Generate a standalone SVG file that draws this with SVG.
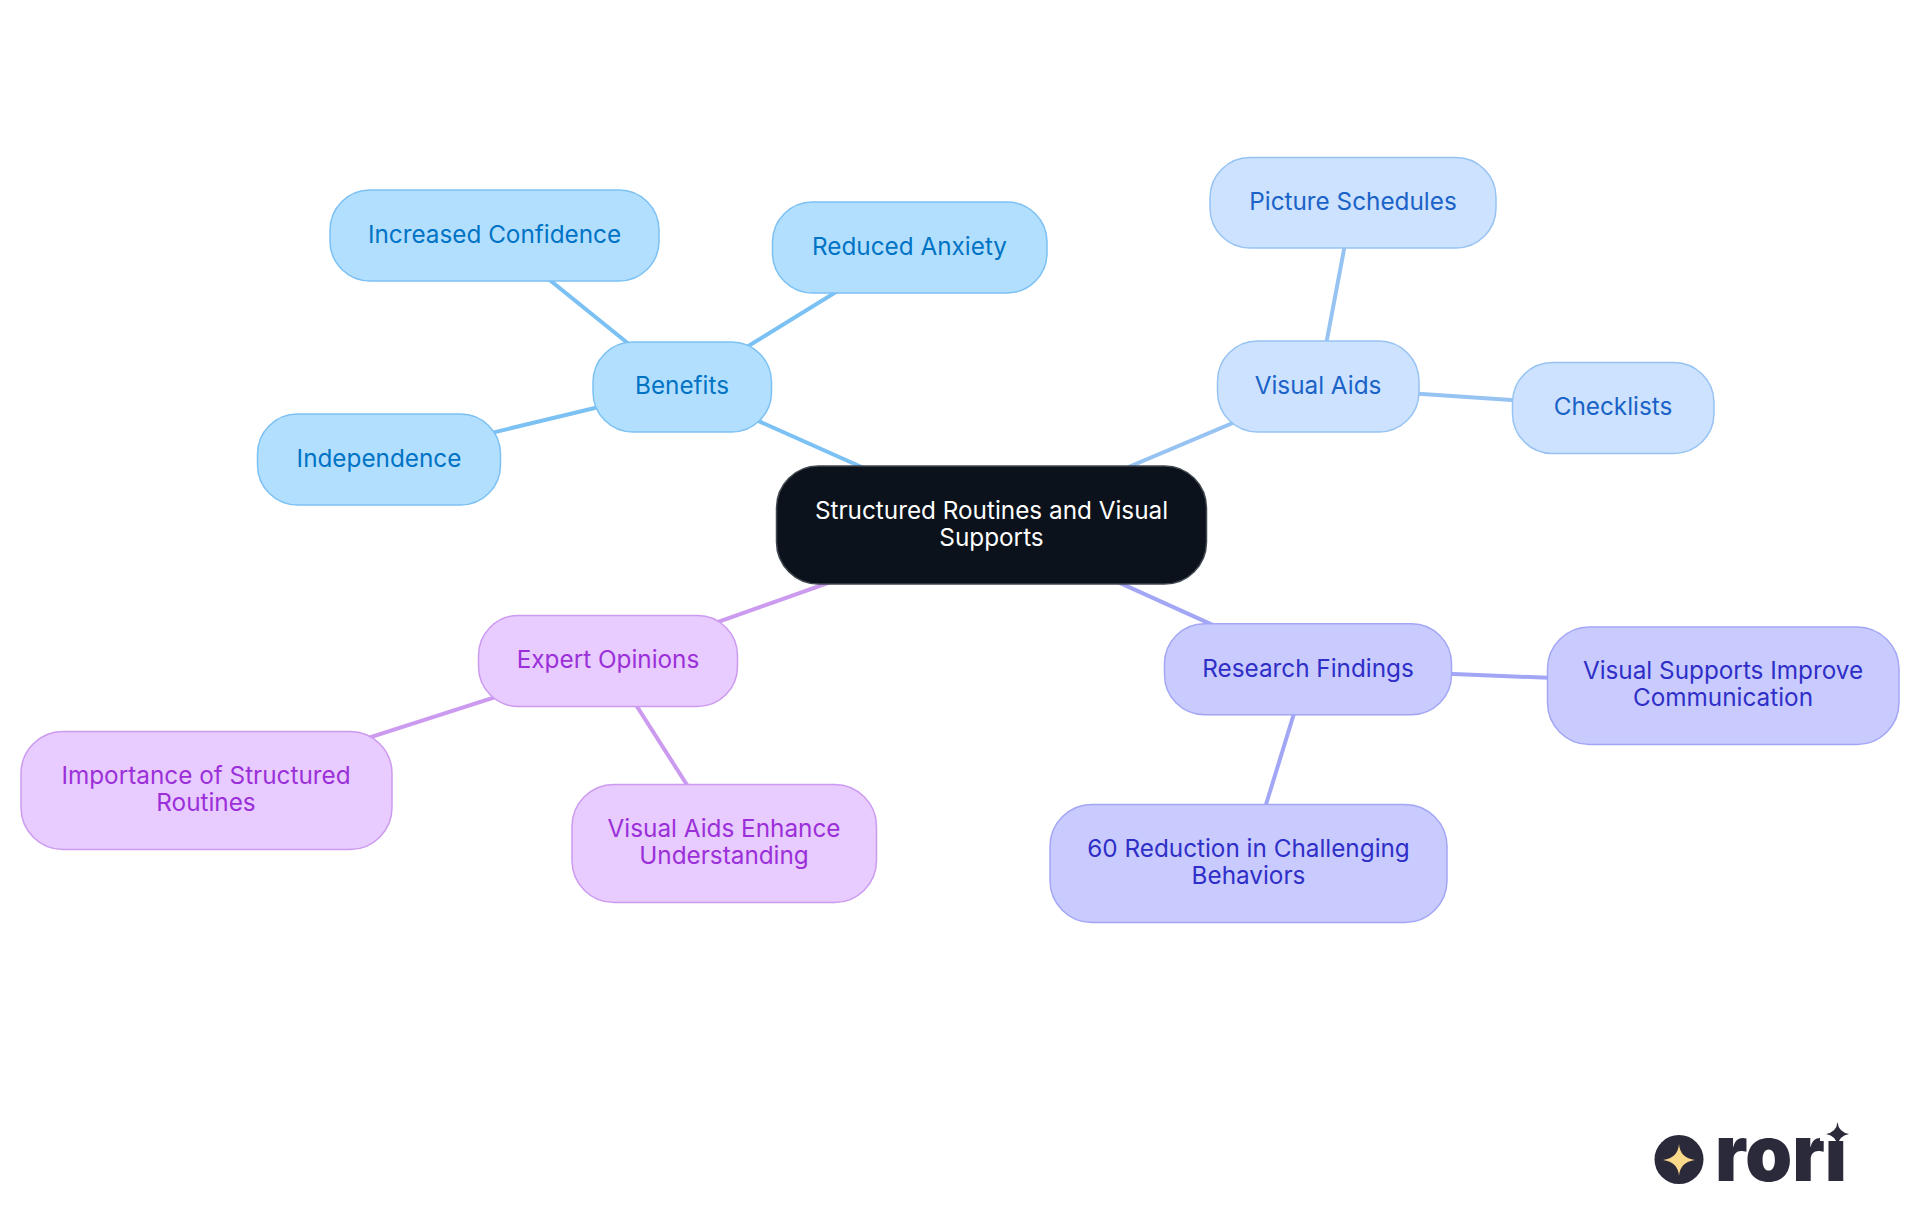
<svg xmlns="http://www.w3.org/2000/svg" width="1920" height="1215" viewBox="0 0 1920 1215">
<style>
text{font-family:"Inter","Noto Sans","Liberation Sans",sans-serif;font-size:24.3px;font-weight:380;text-anchor:middle}
.e{fill:none;stroke-width:4;stroke-linecap:round}
.b rect{fill:#B3DFFF;stroke:#7CC1F3}.b text{fill:#0073C4}
.v rect{fill:#CCE2FE;stroke:#97C3F3}.v text{fill:#1A62C8}
.r rect{fill:#C9CBFE;stroke:#A2A6F5}.r text{fill:#2F2FC8}
.x rect{fill:#E8CBFF;stroke:#CC9BF0}.x text{fill:#9B30D9}
rect{stroke-width:1.5}
</style>
<rect width="1920" height="1215" fill="#fff" style="stroke:none"/>
<g id="connectors" class="e">
<path stroke="#7CC1F3" d="M991.500 525L682 387M682 387L494 235M682 387L909 247M682 387L379 460"/>
<path stroke="#97C3F3" d="M991.500 525L1318 387M1318 387L1353 202M1318 387L1613 407"/>
<path stroke="#A2A6F5" d="M991.500 525L1308 668M1308 668L1723 685M1308 668L1248 863"/>
<path stroke="#CC9BF0" d="M991.500 525L608 661M608 661L206 790M608 661L724 843"/>
</g>
<g id="root"><rect x="776.500" y="466" width="430" height="118" rx="42" fill="#0B121B" stroke="#41474F"/><text x="991.500" y="519" fill="#fff">Structured Routines and Visual</text><text x="991.500" y="546" fill="#fff">Supports</text></g>
<g id="benefits" class="b"><rect x="593" y="342" width="178.500" height="90" rx="40"/><text x="682" y="394">Benefits</text></g>
<g id="increased-confidence" class="b"><rect x="330" y="190" width="329" height="91" rx="40"/><text x="494.500" y="243">Increased Confidence</text></g>
<g id="reduced-anxiety" class="b"><rect x="772.500" y="202" width="274.500" height="91" rx="40"/><text x="909.500" y="255">Reduced Anxiety</text></g>
<g id="independence" class="b"><rect x="257.500" y="414" width="243" height="91" rx="40"/><text x="379" y="467">Independence</text></g>
<g id="visual-aids" class="v"><rect x="1217.500" y="341" width="201.500" height="91" rx="40"/><text x="1318" y="394">Visual Aids</text></g>
<g id="picture-schedules" class="v"><rect x="1210" y="157.500" width="286" height="90.500" rx="40"/><text x="1353" y="210">Picture Schedules</text></g>
<g id="checklists" class="v"><rect x="1512.500" y="362.500" width="201.500" height="91" rx="40"/><text x="1613" y="415">Checklists</text></g>
<g id="research-findings" class="r"><rect x="1164.500" y="623.700" width="287" height="91" rx="40"/><text x="1308" y="677">Research Findings</text></g>
<g id="visual-supports" class="r"><rect x="1547.500" y="627" width="351.500" height="117.500" rx="42"/><text x="1723" y="679">Visual Supports Improve</text><text x="1723" y="706">Communication</text></g>
<g id="reduction" class="r"><rect x="1050" y="804.500" width="397" height="118" rx="42"/><text x="1248.500" y="857">60 Reduction in Challenging</text><text x="1248.500" y="884">Behaviors</text></g>
<g id="expert-opinions" class="x"><rect x="478.500" y="615.500" width="259" height="91" rx="40"/><text x="608" y="668">Expert Opinions</text></g>
<g id="importance" class="x"><rect x="21" y="731.500" width="371" height="118" rx="42"/><text x="206" y="784">Importance of Structured</text><text x="206" y="811">Routines</text></g>
<g id="enhance" class="x"><rect x="572" y="784.500" width="304.500" height="118" rx="42"/><text x="724" y="837">Visual Aids Enhance</text><text x="724" y="864">Understanding</text></g>
<g id="logo">
<circle cx="1679" cy="1159.500" r="24.500" fill="#2B2A3A"/>
<path fill="#FBD98A" d="M1679 1144Q1680 1158 1695 1160Q1680 1162 1679 1176Q1678 1162 1663 1160Q1678 1158 1679 1144Z"/>
<text x="1781" y="1181" textLength="132" lengthAdjust="spacingAndGlyphs" style="font-family:Inter,'Liberation Sans',sans-serif;font-size:78px;font-weight:900;fill:#2B2A3A">rori</text>
<rect x="1820" y="1105" width="36" height="36" fill="#fff" style="stroke:none"/>
<path fill="#2B2A3A" d="M1837.500 1122Q1838.500 1132 1849 1134Q1838.500 1136 1837.500 1146Q1836.500 1136 1826 1134Q1836.500 1132 1837.500 1122Z"/>
</g>
</svg>
